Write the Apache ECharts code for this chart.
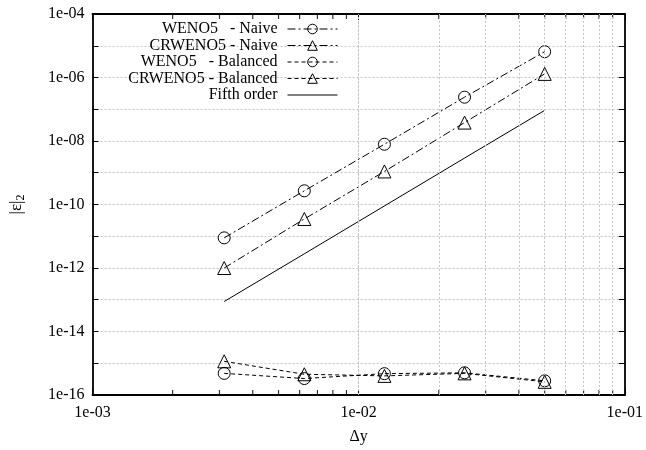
<!DOCTYPE html>
<html>
<head>
<meta charset="utf-8">
<script src="https://cdn.jsdelivr.net/npm/echarts@6/dist/echarts.min.js"></script>
<style>
html, body { margin: 0; padding: 0; background: #fff; }
#chart { width: 646px; height: 450px; }
</style>
</head>
<body>
<div id="chart"></div>
<script>
// grid spacing
var dx = [0.003125, 0.00625, 0.0125, 0.025, 0.05];

// |e|_2 for each scheme
var wenoNaive = [8.9e-12, 2.7e-10, 7.9e-9, 2.4e-7, 6.5e-6];
var crwenoNaive = [1.0e-12, 3.5e-11, 1.1e-9, 3.8e-8, 1.3e-6];
var wenoBalanced = [4.8e-16, 3.3e-16, 4.7e-16, 5.0e-16, 2.8e-16];
var crwenoBalanced = [1.15e-15, 4.5e-16, 4.0e-16, 4.8e-16, 2.6e-16];
var fifthOrder = [8.8e-14, 2.8e-12, 9.0e-11, 2.9e-9, 9.2e-8];

var seriesNames = ['WENO5   - Naive', 'CRWENO5 - Naive', 'WENO5   - Balanced', 'CRWENO5 - Balanced', 'Fifth order'];

// minor grid lines / ticks on the x axis
var xMinorGrid = [0.002, 0.003, 0.004, 0.005, 0.006, 0.007, 0.008, 0.009,
    0.02, 0.03, 0.04, 0.05, 0.06, 0.07, 0.08, 0.09];
var yMin = 1e-16, yMax = 1e-4;

var FONT = 'Liberation Serif';
var GRID_STYLE = {color: '#c4c4c4', type: [2, 2], width: 1};

function pairs(ys) {
    var out = [];
    for (var i = 0; i < dx.length; i++) {
        out.push([dx[i], ys[i]]);
    }
    return out;
}

function expLabel(v) {
    var e = Math.round(Math.log10(v));
    var a = Math.abs(e);
    return '1e' + (e < 0 ? '-' : '+') + (a < 10 ? '0' + a : a);
}

function mkSeries(name, ys, symbol, dash) {
    return {
        name: name,
        type: 'line',
        data: pairs(ys),
        symbol: symbol,
        symbolSize: symbol === 'triangle' ? 13 : 12,
        showSymbol: true,
        color: '#000',
        lineStyle: {color: '#000', width: 1, type: dash},
        itemStyle: {color: 'transparent', borderColor: '#000', borderWidth: 1},
        emphasis: {disabled: true},
        animation: false,
        z: 3
    };
}

// short inward ticks at the minor x positions (bottom and top)
function minorTicks(yVal, offset) {
    return {
        type: 'scatter',
        data: xMinorGrid.map(function (v) { return [v, yVal]; }),
        symbol: 'rect',
        symbolSize: [1.2, 5],
        symbolOffset: [0, offset],
        itemStyle: {color: '#000'},
        silent: true,
        clip: false,
        animation: false,
        z: 4
    };
}

var dashDot = [8, 3, 2, 3];
var dashed = [4, 3];

var series = [
    mkSeries(seriesNames[0], wenoNaive, 'circle', dashDot),
    mkSeries(seriesNames[1], crwenoNaive, 'triangle', dashDot),
    mkSeries(seriesNames[2], wenoBalanced, 'circle', dashed),
    mkSeries(seriesNames[3], crwenoBalanced, 'triangle', dashed),
    mkSeries(seriesNames[4], fifthOrder, 'circle', 'solid'),
    minorTicks(yMin, -2.5),
    minorTicks(yMax, 2.5)
];
// no markers on the reference line (also hides its legend marker)
series[4].showSymbol = false;
series[4].itemStyle = {color: 'transparent', borderColor: 'transparent', borderWidth: 0};

// x minor grid via markLine on the reference line
series[4].markLine = {
    silent: true,
    symbol: 'none',
    label: {show: false},
    animation: false,
    lineStyle: GRID_STYLE,
    data: xMinorGrid.map(function (v) { return {xAxis: v}; })
};

var axisCommon = {
    type: 'log',
    logBase: 10,
    axisLine: {show: true, lineStyle: {color: '#000', width: 1.8}},
    axisTick: {show: true, inside: true, length: 6, lineStyle: {color: '#000'}},
    splitLine: {show: false}
};

var option = {
    backgroundColor: '#fff',
    animation: false,
    grid: {left: 92, right: 21, top: 14, bottom: 51},
    legend: {
        orient: 'vertical',
        align: 'right',
        right: 303,
        top: 16,
        itemWidth: 50,
        itemHeight: 12,
        itemGap: 0.5,
        data: seriesNames,
        lineStyle: {width: 1},
        itemStyle: {color: 'transparent', borderWidth: 1},
        textStyle: {fontFamily: FONT, fontSize: 16, color: '#000', lineHeight: 16, padding: [0, 5, 0, 0]},
        inactiveColor: '#000'
    },
    xAxis: [
        Object.assign({}, axisCommon, {
            min: 0.001,
            max: 0.1,
            interval: 1,
            name: 'Δy',
            nameLocation: 'middle',
            nameGap: 34,
            nameTextStyle: {fontFamily: FONT, fontSize: 16, color: '#000'},
            axisLabel: {fontFamily: FONT, fontSize: 16, color: '#000', margin: 10, formatter: expLabel},
            splitLine: {show: true, lineStyle: GRID_STYLE}
        }),
        Object.assign({}, axisCommon, {
            position: 'top',
            min: 0.001,
            max: 0.1,
            interval: 1,
            axisLabel: {show: false}
        })
    ],
    yAxis: [
        Object.assign({}, axisCommon, {
            min: yMin,
            max: yMax,
            interval: 1,
            name: '|ε|{sub|2}',
            nameLocation: 'middle',
            nameGap: 66,
            nameTextStyle: {
                fontFamily: FONT, fontSize: 17, color: '#000',
                rich: {sub: {fontFamily: FONT, fontSize: 12, color: '#000', padding: [8, 0, 0, 0]}}
            },
            axisLabel: {
                fontFamily: FONT, fontSize: 16, color: '#000', margin: 8,
                formatter: function (v) {
                    var e = Math.round(Math.log10(v));
                    return e % 2 === 0 ? expLabel(v) : '';
                }
            },
            splitLine: {show: true, lineStyle: GRID_STYLE}
        }),
        Object.assign({}, axisCommon, {
            position: 'right',
            min: yMin,
            max: yMax,
            interval: 1,
            axisLabel: {show: false}
        })
    ],
    series: series
};

var chart = echarts.init(document.getElementById('chart'), null, {renderer: 'canvas'});
chart.setOption(option);
</script>
</body>
</html>
